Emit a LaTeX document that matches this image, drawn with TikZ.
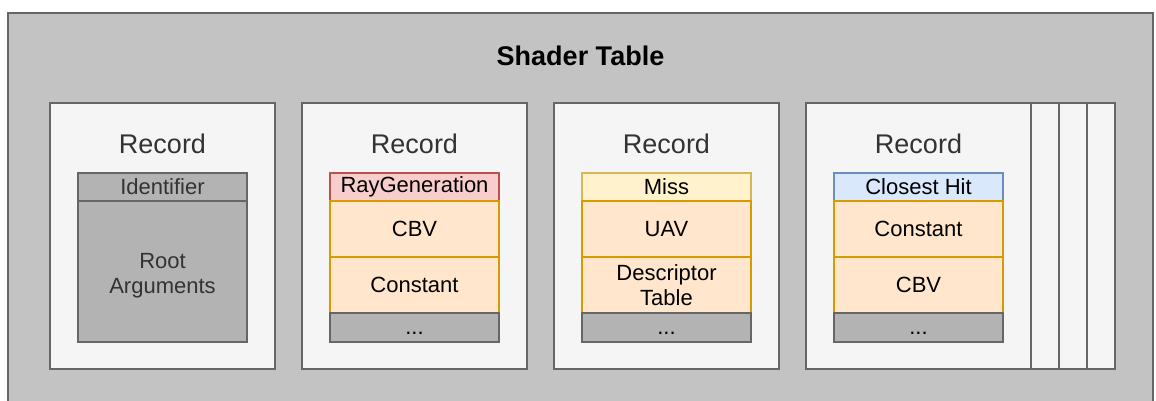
\documentclass[tikz,border=0pt]{standalone}
\usepackage{fontspec}
\setmainfont{Liberation Sans}
\usetikzlibrary{positioning}

\definecolor{tablefill}{HTML}{C3C3C3}
\definecolor{edgegray}{HTML}{666666}
\definecolor{recordfill}{HTML}{F5F5F5}
\definecolor{slotgray}{HTML}{B3B3B3}
\definecolor{darktext}{HTML}{333333}
\definecolor{redfill}{HTML}{F8CECC}
\definecolor{rededge}{HTML}{B85450}
\definecolor{orangefill}{HTML}{FFE6CC}
\definecolor{orangeedge}{HTML}{D79B00}
\definecolor{yellowfill}{HTML}{FFF2CC}
\definecolor{yellowedge}{HTML}{D6B656}
\definecolor{bluefill}{HTML}{DAE8FC}
\definecolor{blueedge}{HTML}{6C8EBF}

\begin{document}
\begin{tikzpicture}[x=1pt, y=-1pt, outer sep=0pt, inner sep=0pt,
                    tablenode/.style={draw=edgegray, fill=tablefill, line width=1.5pt, minimum width=1145pt, minimum height=400pt},
                    recordnode/.style={draw=edgegray, fill=recordfill, line width=1.5pt, minimum width=225pt, minimum height=266pt},
                    recordtitle/.style={text=darktext, font=\fontsize{27}{30}\selectfont},
                    slotnode/.style={draw=edgegray, fill=slotgray, line width=1.5pt, minimum width=169pt, text=darktext, font=\fontsize{22}{25}\selectfont, align=center},
                    headnode/.style={slotnode, minimum height=28pt, text=black},
                    fieldnode/.style={slotnode, draw=orangeedge, fill=orangefill, minimum height=56pt, text=black},
                    dotsnode/.style={slotnode, minimum height=29pt, text=black, text height=14pt, text depth=0pt}]
    \useasboundingbox (0,0) rectangle (1156,401);
    % table
    \node[tablenode, anchor=north west] (T) at (8,13) {};
    \node[font=\fontsize{27}{30}\selectfont\bfseries, below=33pt of T.north] (title) {Shader Table};
    % records
    \node[recordnode, anchor=north west] (R1) at (50,103) {};
    \node[recordnode]      (R2)       [right=27pt of R1]       {};
    \node[recordnode]      (R3)       [right=27pt of R2]       {};
    \node[recordnode]      (S3)       [right=111pt of R3]      {};
    \node[recordnode]      (S2)       [right=83pt of R3]       {};
    \node[recordnode]      (S1)       [right=55pt of R3]       {};
    \node[recordnode]      (R4)       [right=27pt of R3]       {};
    \foreach \r in {R1,R2,R3,R4}
        \node[recordtitle, below=31pt of \r.north] (\r title) {Record};
    % record 1
    \node[headnode, text=darktext, anchor=north west] (id1) at ([shift={(28pt,-70pt)}]R1.north west) {Identifier};
    \node[slotnode, minimum height=141pt, below=0pt of id1,
          label={[yshift=-4pt, text=darktext, align=center, font=\fontsize{22}{25}\selectfont]center:Root\\Arguments}] (root1) {};
    % record 2
    \node[headnode, draw=rededge, fill=redfill, anchor=north west] (ray2) at ([shift={(28pt,-70pt)}]R2.north west) {RayGeneration};
    \node[fieldnode] (cbv2)   [below=0pt of ray2]  {CBV};
    \node[fieldnode] (const2) [below=0pt of cbv2]  {Constant};
    \node[dotsnode]  (dots2)  [below=0pt of const2] {...};
    % record 3
    \node[headnode, draw=yellowedge, fill=yellowfill, anchor=north west] (miss3) at ([shift={(28pt,-70pt)}]R3.north west) {Miss};
    \node[fieldnode] (uav3)   [below=0pt of miss3] {UAV};
    \node[fieldnode] (desc3)  [below=0pt of uav3]  {Descriptor\\Table};
    \node[dotsnode]  (dots3)  [below=0pt of desc3] {...};
    % record 4
    \node[headnode, draw=blueedge, fill=bluefill, anchor=north west] (hit4) at ([shift={(28pt,-70pt)}]R4.north west) {Closest Hit};
    \node[fieldnode] (const4) [below=0pt of hit4]   {Constant};
    \node[fieldnode] (cbv4)   [below=0pt of const4] {CBV};
    \node[dotsnode]  (dots4)  [below=0pt of cbv4]   {...};
\end{tikzpicture}
\end{document}
